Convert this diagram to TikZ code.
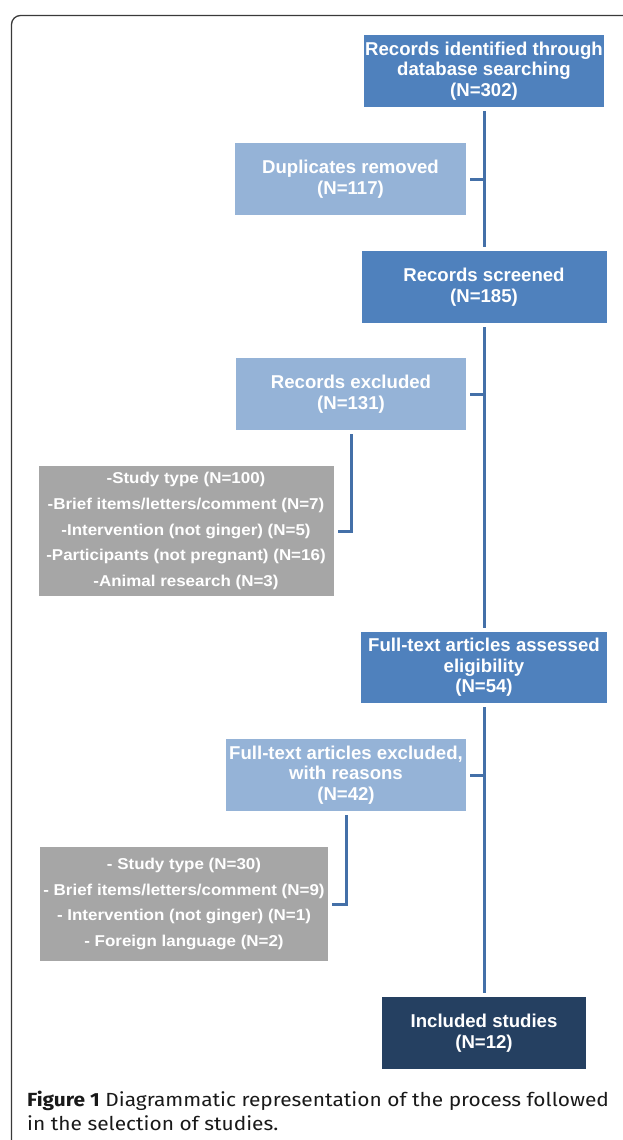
\documentclass[tikz,border=0pt]{standalone}
\usepackage{fontspec}
\newfontfamily\boxfont{Liberation Sans}
\newfontfamily\reasonfont[FakeStretch=1.08]{Liberation Sans}
\newfontfamily\capfont[FakeStretch=1.1]{Fira Sans}
\usetikzlibrary{calc}

\definecolor{stepblue}{HTML}{4F81BD}
\definecolor{exclblue}{HTML}{95B3D7}
\definecolor{endblue}{HTML}{254061}
\definecolor{reasongray}{HTML}{A6A6A6}
\definecolor{linkblue}{RGB}{68,112,168}
\definecolor{framegray}{HTML}{3A3A3A}

\tikzset{
  flowbox/.style={fill=stepblue, text=white, align=center, inner sep=0pt,
    font=\boxfont\bfseries\fontsize{18.6}{20.5}\selectfont},
  exclbox/.style={flowbox, fill=exclblue},
  endbox/.style={flowbox, fill=endblue},
  reasonbox/.style={fill=reasongray, text=white, align=center, inner sep=0pt,
    font=\reasonfont\bfseries\fontsize{15.7}{25.8}\selectfont},
  link/.style={draw=linkblue, line width=3pt, shorten <=4pt, shorten >=4pt},
}

\begin{document}
\begin{tikzpicture}[x=1pt,y=-1pt]
		\useasboundingbox (0,0) rectangle (622,1140);
		
		%frame outline
		\draw[framegray, line width=1.3pt, rounded corners=9pt] (11.5,1145) -- (11.5,15.5) -- (630,15.5);
		
		%main steps
		\node[flowbox, minimum width=240pt, minimum height=72pt] (ident) at (484,71) {Records identified through\\database searching\\(N=302)};
		\node[flowbox, minimum width=245pt, minimum height=72pt] (screen) at (484,287) {Records screened\\(N=185)};
		\node[flowbox, minimum width=246pt, minimum height=71pt] (assess) at (484,667.5) {Full-text articles assessed\\eligibility\\(N=54)};
		\node[endbox, minimum width=204pt, minimum height=72pt] (incl) at (484,1033) {Included studies\\(N=12)};
		
		%excluded records
		\node[exclbox, minimum width=231pt, minimum height=72pt] (dupl) at (350.5,179) {Duplicates removed\\(N=117)};
		\node[exclbox, minimum width=230pt, minimum height=72pt] (recexcl) at (351,394) {Records excluded\\(N=131)};
		\node[exclbox, minimum width=240pt, minimum height=72pt] (fullexcl) at (346,775) {Full-text articles excluded,\\with reasons\\(N=42)};
		
		%reasons
		\node[reasonbox, minimum width=295pt, minimum height=130pt] (reasonsA) at (186,531) {-Study type (N=100)\\-Brief items/letters/comment (N=7)\\-Intervention (not ginger) (N=5)\\-Participants (not pregnant) (N=16)\\-Animal research (N=3)};
		\node[reasonbox, minimum width=288pt, minimum height=114pt] (reasonsB) at (184,904) {- Study type (N=30)\\- Brief items/letters/comment (N=9)\\- Intervention (not ginger) (N=1)\\- Foreign language (N=2)};
		
		%trunk
		\draw[link] (ident) -- (screen);
		\draw[link] (screen) -- (assess);
		\draw[link] (assess) -- (incl);
		
		%branches
		\draw[link, shorten >=-1.5pt] (dupl.east) -- (dupl.east -| ident.south);
		\draw[link, shorten >=-1.5pt] (recexcl.east) -- (recexcl.east -| screen.south);
		\draw[link, shorten >=-1.5pt] (fullexcl.east) -- (fullexcl.east -| assess.south);
		\draw[link] (recexcl.south) |- (reasonsA.east);
		\draw[link] (fullexcl.south) |- (reasonsB.east);
		
		%caption
		\node[anchor=base west, align=left, inner sep=0pt, text=black!90, font=\capfont\fontsize{19}{24}\selectfont] (caption) at (27,1130) {\textbf{Figure 1} Diagrammatic representation of the process followed\\in the selection of studies.};
\end{tikzpicture}
\end{document}
